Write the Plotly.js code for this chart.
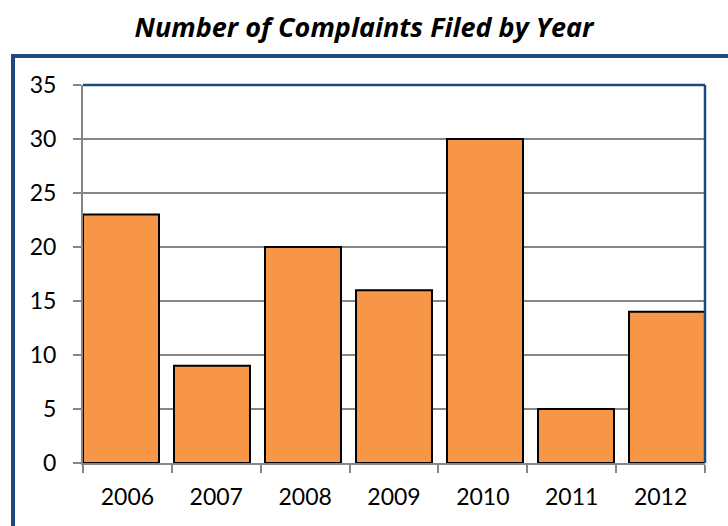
<!DOCTYPE html>
<html>
<head>
<meta charset="utf-8">
<script src="https://cdn.plot.ly/plotly-3.0.1.min.js"></script>
<style>html,body{margin:0;padding:0;background:#fff;}#chart{width:728px;height:526px;}</style>
</head>
<body>
<div id="chart"></div>
<script>
const years = ["2006", "2007", "2008", "2009", "2010", "2011", "2012"];
const complaints = [23, 9, 20, 16, 30, 5, 14];
const chartTitle = "Number of Complaints Filed by Year";

const W = 728, H = 526;
const mL = 83, mR = 23, mT = 85, mB = 63;
const pw = W - mL - mR, ph = H - mT - mB;

const bars = {
  type: "bar",
  x: years,
  y: complaints,
  xaxis: "x",
  yaxis: "y",
  width: 0.835,
  marker: {color: "#F79646", line: {color: "#000000", width: 2}},
  hoverinfo: "x+y"
};
const labelTrace = {
  type: "scatter",
  mode: "markers",
  x: years,
  y: complaints,
  xaxis: "x2",
  yaxis: "y",
  marker: {opacity: 0},
  hoverinfo: "skip",
  showlegend: false
};

const layout = {
  width: W, height: H,
  margin: {l: mL, r: mR, t: mT, b: mB, pad: 0},
  paper_bgcolor: "#ffffff",
  plot_bgcolor: "#ffffff",
  showlegend: false,
  font: {family: "Lato, 'Open Sans', sans-serif", color: "#000000", size: 23},
  title: {
    text: "<b><i>" + chartTitle + "</i></b>",
    font: {family: "'Open Sans', Lato, sans-serif", size: 27, color: "#000000"},
    x: 0.5, xanchor: "center", xref: "container",
    y: 1 - 28 / H, yref: "container", yanchor: "middle"
  },
  xaxis: {
    type: "category",
    range: [-0.4175, 6.4175],
    showticklabels: false, ticks: "", showgrid: false, zeroline: false, showline: false,
    fixedrange: true
  },
  xaxis2: {
    type: "category",
    overlaying: "x",
    anchor: "y",
    side: "bottom",
    range: [-0.5, 6.5],
    tickson: "boundaries",
    ticks: "outside", ticklen: 8, tickwidth: 2, tickcolor: "#868686",
    ticklabelstandoff: 12,
    showgrid: false, zeroline: false,
    showline: true, linecolor: "#868686", linewidth: 2,
    tickfont: {size: 23, color: "#000000"}
  },
  yaxis: {
    range: [0, 35],
    dtick: 5, tick0: 0,
    ticks: "outside", ticklen: 8, tickwidth: 2, tickcolor: "#868686",
    ticklabelstandoff: 12,
    showgrid: true, gridcolor: "#868686", gridwidth: 2,
    zeroline: false,
    showline: true, linecolor: "#868686", linewidth: 2,
    tickfont: {size: 23, color: "#000000"}
  },
  shapes: [
    {type: "line", xref: "paper", yref: "paper", x0: 0, x1: 1, y0: 1, y1: 1,
     line: {color: "#1F497D", width: 2.5}},
    {type: "line", xref: "paper", yref: "paper", x0: 1, x1: 1, y0: 0, y1: 1,
     line: {color: "#1F497D", width: 2.5}},
    {type: "rect", xref: "paper", yref: "paper",
     x0: (13 - mL) / pw, x1: 1.5, y0: -0.5, y1: (H - mB - 56) / ph,
     line: {color: "#1F497D", width: 4}, fillcolor: "rgba(0,0,0,0)"}
  ]
};

Plotly.newPlot("chart", [bars, labelTrace], layout, {displayModeBar: false, staticPlot: true});
</script>
</body>
</html>
